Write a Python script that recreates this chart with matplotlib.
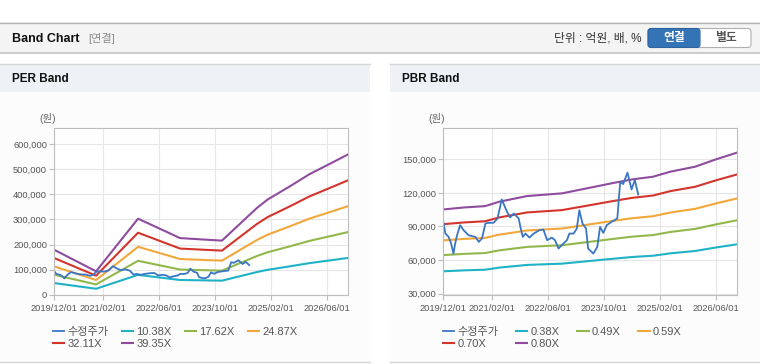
import matplotlib
matplotlib.use("Agg")
import matplotlib.pyplot as plt
from matplotlib.patches import Rectangle, FancyBboxPatch
import pandas as pd

plt.rcParams["font.family"] = ["Liberation Sans", "Noto Sans CJK KR"]

# ---- data ----
x_ticks = ["2019-12-01", "2021-02-01", "2022-06-01", "2023-10-01", "2025-02-01", "2026-06-01"]
x_tick_labels = ["2019/12/01", "2021/02/01", "2022/06/01", "2023/10/01", "2025/02/01", "2026/06/01"]
x_start = "2019-12-01"
x_end = "2026-12-01"

price_dates = [
    "2019-12-01", "2019-12-22", "2020-01-19", "2020-02-10", "2020-03-01", "2020-03-16",
    "2020-04-01", "2020-04-28", "2020-05-28", "2020-07-10", "2020-09-07", "2020-10-07",
    "2020-11-04", "2020-12-04", "2021-01-01", "2021-02-13", "2021-03-19", "2021-04-25",
    "2021-06-10", "2021-07-07", "2021-08-07", "2021-09-19", "2021-10-07", "2021-10-25",
    "2021-11-16", "2021-12-22", "2022-01-28", "2022-03-19", "2022-04-22", "2022-05-25",
    "2022-07-04", "2022-08-01", "2022-09-01", "2022-10-07", "2022-11-13", "2022-12-04",
    "2023-01-10", "2023-02-07", "2023-03-01", "2023-03-28", "2023-04-28", "2023-05-16",
    "2023-07-01", "2023-08-04", "2023-08-28", "2023-09-25", "2023-10-25", "2023-12-07",
    "2024-01-25", "2024-02-19", "2024-03-16", "2024-04-22", "2024-05-28", "2024-06-25",
    "2024-07-25",
]
price_values = [
    95700, 83700, 80700, 74800, 65800, 74800,
    82200, 91200, 86700, 82200, 80700, 76300,
    79300, 92700, 93300, 93300, 97200, 114200,
    103100, 98100, 101600, 97200, 88200, 80700,
    83700, 80100, 83700, 86700, 87300, 77800,
    80100, 77800, 70300, 74200, 77800, 83700,
    83700, 88200, 104600, 92700, 88200, 70300,
    65800, 71800, 89700, 84300, 91200, 94200,
    97200, 130000, 127900, 138100, 123100, 131500,
    118600,
]

eps_dates = ["2019-12-01", "2020-12-01", "2021-12-01", "2022-12-01", "2023-07-01", "2023-12-01",
             "2024-10-01", "2025-01-01", "2025-07-01", "2026-01-01", "2026-07-01", "2026-12-01"]
eps_values = [4574, 2389, 7700, 5743, 5591, 5489, 8793, 9632, 10877, 12198, 13266, 14180]
per_multiples = [10.38, 17.62, 24.87, 32.11, 39.35]
per_labels = ["10.38X", "17.62X", "24.87X", "32.11X", "39.35X"]
per_yticks = [0, 100000, 200000, 300000, 400000, 500000, 600000]

bps_dates = ["2019-12-01", "2020-06-01", "2020-12-01", "2021-04-01", "2021-12-01", "2022-10-01",
             "2023-05-01", "2023-12-01", "2024-06-01", "2024-12-01", "2025-05-01", "2025-12-01",
             "2026-06-01", "2026-12-01"]
bps_values = [131500, 133750, 135250, 140100, 146500, 149500, 155000, 160600, 165100, 168100,
              173750, 179250, 187500, 195000]
pbr_multiples = [0.38, 0.49, 0.59, 0.70, 0.80]
pbr_labels = ["0.38X", "0.49X", "0.59X", "0.70X", "0.80X"]
pbr_yticks = [30000, 60000, 90000, 120000, 150000]

price_color = "#3a76c4"
band_colors = ["#1fb2c6", "#92b84c", "#f2a73b", "#d3342c", "#8f4c9e"]

W, H = 760, 364
fig = plt.figure(figsize=(W / 100, H / 100), dpi=100)
fig.patch.set_facecolor("white")

# background / page furniture in pixel coordinates
bg = fig.add_axes([0, 0, 1, 1], zorder=-10)
bg.set_xlim(0, W)
bg.set_ylim(H, 0)
bg.axis("off")

bg.add_patch(Rectangle((0, 22), W, 31, facecolor="#f4f4f4", edgecolor="none"))
bg.plot([0, W], [22.5, 22.5], color="#b4b4b4", lw=1)
bg.plot([0, W], [53, 53], color="#c4c4c4", lw=1.2)
bg.text(12, 38.5, "Band Chart", fontsize=9, fontweight="bold", color="#111111", va="center")
bg.text(88, 38.5, "[연결]", fontsize=8, color="#8a8a8a", va="center")
bg.text(642, 38.5, "단위 : 억원, 배, %", fontsize=8.5, color="#333333", va="center", ha="right")

bg.add_patch(FancyBboxPatch((648, 28.5), 103, 19, boxstyle="round,pad=0,rounding_size=3",
                            facecolor="white", edgecolor="#b0b0b0", lw=0.8))
bg.add_patch(FancyBboxPatch((648, 28.5), 52, 19, boxstyle="round,pad=0,rounding_size=3",
                            facecolor="#3473b5", edgecolor="#2c64a0", lw=0.8))
bg.add_patch(Rectangle((694, 28.9), 6, 18.2, facecolor="#3473b5", edgecolor="none"))
bg.text(674, 38.5, "연결", fontsize=8.5, fontweight="bold", color="white", va="center", ha="center")
bg.text(725.5, 38.5, "별도", fontsize=8.5, fontweight="bold", color="#555555", va="center", ha="center")

for px0, px1, title in [(0, 370, "PER Band"), (390, W, "PBR Band")]:
    bg.add_patch(Rectangle((px0, 64), px1 - px0, 298, facecolor="#fcfcfc", edgecolor="none"))
    bg.add_patch(Rectangle((px0, 64), px1 - px0, 28, facecolor="#eef2f7", edgecolor="none"))
    bg.plot([px0, px1], [64, 64], color="#d6d6d6", lw=1)
    bg.plot([px0, px1], [362, 362], color="#d6d6d6", lw=1)
    bg.text(px0 + 12, 79, title, fontsize=8.5, fontweight="bold", color="#111111", va="center")


def px_axes(left, top, right, bottom):
    return fig.add_axes([left / W, 1 - bottom / H, (right - left) / W, (bottom - top) / H])


def style_axes(ax, yticks, ylim):
    ax.set_facecolor("white")
    ax.set_xlim(pd.Timestamp(x_start), pd.Timestamp(x_end))
    ax.set_ylim(*ylim)
    ax.set_xticks(pd.to_datetime(x_ticks))
    ax.set_xticklabels(x_tick_labels)
    ax.set_yticks(yticks)
    ax.set_yticklabels([f"{v:,}" for v in yticks])
    ax.grid(True, color="#e6e6e6", lw=0.8)
    ax.set_axisbelow(True)
    for s in ax.spines.values():
        s.set_color("#bdbdbd")
        s.set_linewidth(0.8)
    ax.tick_params(axis="both", labelsize=6.7, labelcolor="#555555", color="#bdbdbd",
                   length=3.5, width=0.8)
    ax.tick_params(axis="y", pad=1.5)
    ax.tick_params(axis="x", pad=3)


def draw_band(ax, base_dates, base_values, multiples, labels, yticks, ylim, legend_x, colspace):
    style_axes(ax, yticks, ylim)
    bd = pd.to_datetime(base_dates)
    bands = []
    for m, lab, c in zip(multiples, labels, band_colors):
        h, = ax.plot(bd, [v * m for v in base_values], color=c, lw=1.5, label=lab)
        bands.append(h)
    hp, = ax.plot(pd.to_datetime(price_dates), price_values, color=price_color, lw=1.3,
                  label="수정주가")
    # legend fills column by column -> order so rows read left to right
    handles = [hp, bands[3], bands[0], bands[4], bands[1], bands[2]]
    fig.legend(handles=handles, loc="upper left", ncol=4, frameon=False,
               bbox_to_anchor=(legend_x / W, 1 - 327 / H), fontsize=8,
               handlelength=1.0, handletextpad=0.3, columnspacing=colspace,
               labelspacing=0.2, borderpad=0, borderaxespad=0, labelcolor="#555555")


ax1 = px_axes(54, 128, 348, 295)
draw_band(ax1, eps_dates, eps_values, per_multiples, per_labels, per_yticks, (0, 663000), 53, 1.2)
bg.text(48, 118, "(원)", fontsize=7.5, color="#666666", ha="center", va="center")

ax2 = px_axes(443, 128, 737, 295)
draw_band(ax2, bps_dates, bps_values, pbr_multiples, pbr_labels, pbr_yticks, (28800, 178000), 443, 1.6)
bg.text(437, 118, "(원)", fontsize=7.5, color="#666666", ha="center", va="center")

fig.savefig("out.png", dpi=100, facecolor=fig.get_facecolor())
